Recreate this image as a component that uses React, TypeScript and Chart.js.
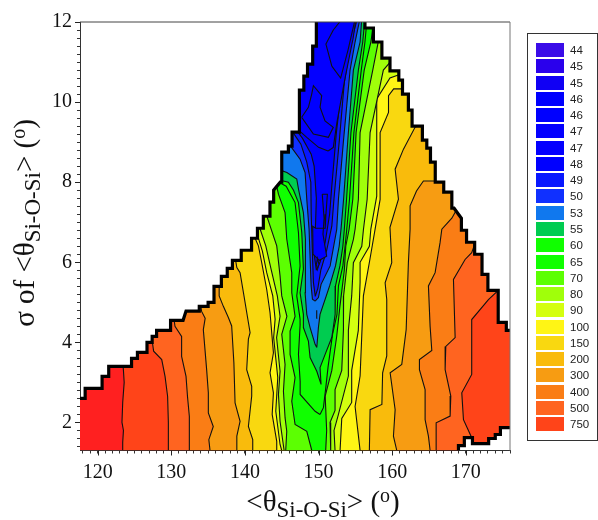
import React, { useEffect, useRef } from "react";
import { Chart, registerables } from "chart.js";

type P = [number, number];

const legendLabels = ["44","45","45","46","46","47","47","48","49","50","53","55","60","65","70","80","90","100","150","200","300","400","500","750"];
const legendColors = ["#3A0CE8","#2A00EC","#1000F4","#0000FF","#0000FF","#0400FF","#0400FF","#0000FF","#0818FF","#1030FF","#1078EE","#00CC50","#10FF00","#10FF00","#5CFF02","#A0FF0A","#D4FF10","#FFF515","#F9D810","#F9BB0C","#F79C12","#FA7D15","#FF6420","#FF4419"];
const floorColor = "#FF2020";

const xMajor = [120,130,140,150,160,170];
const yMajor = [2,4,6,8,10,12];

const outlineLeft: P[] = [[117.6,2.6],[118.3,2.6],[118.3,2.85],[120.6,2.85],[120.6,3.15],[121.5,3.15],[121.5,3.4],[124.2,3.4],[124.6,3.4],[124.6,3.6],[125.4,3.6],[125.4,3.75],[126.7,3.75],[126.7,4],[127.4,4],[127.4,4.15],[128,4.15],[128,4.3],[129.9,4.3],[129.9,4.55],[131.6,4.55],[132,4.78],[133.8,4.78],[133.8,4.9],[135,4.9],[135,5],[135.8,5],[135.8,5.4],[136.8,5.4],[136.8,5.65],[137.6,5.65],[137.6,5.85],[138.3,5.85],[138.3,6.05],[139.5,6.05],[139.5,6.3],[140.9,6.3],[140.9,6.6],[141.7,6.6],[141.7,6.85],[142.5,6.85],[142.5,7.15],[143.4,7.15],[143.4,7.5],[143.9,7.5],[143.9,7.8],[144.8,8],[145,8],[145,8.75],[145.9,8.75],[145.9,8.9],[146.4,8.9],[146.4,9.25],[147.4,9.25],[147.4,10.3],[148,10.3],[148,10.65],[148.5,10.65],[148.5,10.95],[149.2,10.95],[149.2,11.4],[149.7,11.4],[149.7,12]];
const outlineRight: P[] = [[156.3,12],[156.3,11.85],[157.45,11.85],[157.45,11.5],[158.6,11.5],[158.6,11.1],[159.7,11.1],[159.7,10.78],[160.9,10.78],[160.9,10.55],[161.4,10.55],[161.4,10.2],[162.2,10.2],[162.2,9.8],[162.7,9.8],[162.7,9.4],[164.1,9.4],[164.1,9.05],[164.7,9.05],[164.7,8.85],[165.2,8.85],[165.2,8.5],[165.85,8.5],[165.85,8],[167,8],[167,7.75],[168.1,7.75],[168.1,7.35],[168.4,7.35],[169.4,7.1],[169.4,6.8],[170.1,6.8],[170.1,6.5],[171.2,6.5],[171.2,6.2],[172.2,6.2],[172.2,5.7],[173,5.7],[173,5.3],[174.4,5.3],[174.4,4.5],[175.5,4.5],[175.5,4.3],[176,4.3]];
const outlineNotch: P[] = [[176,1.87],[174.7,1.87],[174.7,1.7],[174,1.7],[174,1.6],[173.1,1.6],[173.1,1.47],[170.9,1.47],[170.9,1.62],[169.8,1.62],[169.8,1.42],[169,1.42],[169,1.3]];

const left750: P[] = [[123.4,1.3],[123.4,1.5],[123.5,1.8],[123.3,2],[123.4,2.5],[123.6,3],[123.5,3.3],[123.3,3.7]];
const right750: P[] = [[185,1.3]];
const left500: P[] = [[129.6,1.3],[129.6,2],[129.5,2.65],[129.15,3.15],[128.7,3.57],[127.6,3.78],[127.2,4.3]];
const right500: P[] = [[170.8,1.3],[170.8,1.62],[169.68,2.07],[169.45,2.74],[170.8,3.2],[170.8,4.57],[173.07,5.07],[175,5.4]];
const left400: P[] = [[132.45,1.3],[132.45,2.15],[132.2,2.65],[132,3.15],[131.4,3.65],[131.4,4.15],[130.5,4.4],[130.2,4.8]];
const right400: P[] = [[165.97,1.3],[165.97,1.99],[167.87,2.16],[167.96,2.66],[167.19,3.32],[167.28,3.9],[168.55,4.12],[168.32,5.57],[169.9,6.07],[170.8,6.24],[171.5,6.6]];
const left300: P[] = [[135.26,1.3],[135.1,1.57],[135.7,1.9],[135.03,2.24],[135.03,2.74],[134.8,3.32],[134.35,4.32],[134.6,4.6],[134.1,4.78],[133.9,5.1]];
const right300: P[] = [[165.15,1.3],[164.92,1.66],[164.47,2.07],[164.47,2.82],[163.7,3.32],[163.7,3.57],[165.38,3.8],[165.15,4.4],[164.92,5.41],[165.83,5.74],[166.5,6.49],[166.74,6.825],[168.1,7.1],[169,7.4]];
const left200: P[] = [[138.9,1.3],[138.9,1.66],[139.34,2.03],[138.66,2.49],[138.5,3.49],[138.2,4.41],[137.75,4.62],[137.07,4.9],[136.5,5.16],[136.5,5.41],[136.2,5.7]];
const right200: P[] = [[160.62,1.3],[160.17,1.66],[160.4,2.32],[159.72,3.24],[161.3,3.45],[161.9,4.32],[162.2,5.99],[162.43,6.825],[162.43,7.41],[163.3,7.78],[164.24,8.03],[165.8,8.03],[167,8.03]];
const left150: P[] = [[141.06,1.3],[141.06,1.57],[140.47,1.9],[140.92,2.66],[140.92,2.9],[140.24,3.32],[140.47,4.08],[140.7,4.24],[139.8,5.24],[139.34,5.74],[138.9,5.87],[138.6,6.2]];
const right150: P[] = [[156.9,1.3],[157,2.32],[158.6,2.45],[158.7,3.24],[159.26,3.66],[159.26,5.07],[159.04,5.49],[159.94,5.99],[159.7,6.87],[160.85,7.575],[160.4,8.325],[161.53,8.825],[163.1,9.37],[164,9.45]];
const left100: P[] = [[144.32,1.3],[144.32,1.53],[143.7,2.2],[143.87,2.74],[143.41,3.24],[143.87,3.74],[143.41,4.74],[142.96,5.32],[142.28,5.99],[141.83,6.41],[141.38,6.6],[141,6.95]];
const right100: P[] = [[155.64,1.3],[154.96,2.4],[155.64,3.16],[156.09,5.16],[157,6.1],[157.68,6.83],[158.36,7.57],[158.36,9.24],[159.5,9.74],[159.5,10.16],[160.2,10.33],[162,10.33]];
const left90: P[] = [[145,1.3],[144.77,1.45],[144.19,2.28],[144.46,3.12],[143.9,4.12],[144.1,4.58],[143.78,5.16],[142.96,5.74],[142.37,6.28],[141.74,6.66],[141.5,7]];
const right90: P[] = [[152.92,1.3],[153.15,2.1],[154.5,2.5],[154.5,3.3],[155.4,4.3],[155.64,5.5],[155.64,6],[156.9,6.4],[157.1,6.83],[157.9,7.65],[157.9,10.08],[159.7,10.6],[161.2,10.7]];
const left80: P[] = [[145.32,1.3],[144.77,2.03],[144.55,2.7],[144.77,3.28],[144.3,4.12],[144.77,4.65],[144.4,5.16],[143.55,5.83],[142.83,6.41],[142.06,6.83],[141.8,7.2]];
const right80: P[] = [[152.24,1.3],[152.1,1.8],[152.7,2.2],[154.05,3.16],[154.05,4.3],[154.5,5.16],[154.73,5.99],[155.87,6.4],[156.1,6.825],[156.6,7.575],[157,9.24],[158.8,10.8],[160.2,11.1]];
const left70: P[] = [[145.54,1.3],[145.68,1.78],[145.45,2.12],[145.23,2.78],[145.45,3.45],[145,4.2],[145.7,4.65],[145,5.16],[144.77,5.66],[144.32,6.41],[142.96,7.16],[142.7,7.5]];
const right70: P[] = [[151.65,1.3],[151.56,2],[152.24,2.3],[152.24,2.82],[153.15,3.3],[153.38,4.32],[153.4,5.16],[153.9,5.99],[154.73,6.57],[154.96,6.825],[155.41,7.575],[155.64,9.24],[157.36,10.8],[158.1,11.5],[159,11.6]];
const left65: P[] = [[149.08,1.3],[148.4,1.78],[146.81,1.95],[146.36,2.53],[146.81,3.12],[146.13,3.7],[146.13,4.28],[146.81,4.65],[146.36,5.24],[146.36,5.74],[145.68,6.58],[145.45,7.24],[144.55,7.7],[144.2,8]];
const right65: P[] = [[150.97,1.3],[151.1,1.8],[150.9,2.66],[151.8,3.3],[152.47,4.16],[152.9,4.9],[153.5,5.8],[153.7,6.4],[154.15,6.825],[154.65,7.575],[155.1,9.24],[156.2,10.8],[157.1,11.5],[157.6,12.1]];
const left60: P[] = [[150.2,2.2],[149.53,2.28],[147.5,2.7],[147.5,3.03],[147.27,3.7],[147.5,4.45],[147.49,4.58],[147.04,5.16],[147.49,5.91],[147.27,6.74],[146.81,7.49],[145.6,7.9],[144.6,8]];
const right60: P[] = [[150.2,2.2],[150.66,2.37],[151,2.9],[151.3,3.4],[151.9,4.2],[152.5,4.7],[152.7,5.41],[153.3,5.91],[153.6,6.4],[153.83,6.825],[154.2,7.575],[154.8,9.24],[155.8,10.8],[156.3,11.5],[156.6,12.1]];
const left55: P[] = [[150.34,2.95],[149.76,3.28],[148.85,3.62],[148.62,4.03],[147.94,4.37],[147.94,4.7],[147.49,5.24],[147.94,5.83],[147.72,6.74],[147.27,7.49],[146.6,7.8],[145.9,8],[144.8,8.05]];
const right55: P[] = [[150.34,2.95],[150.2,3.37],[150.89,3.7],[151.79,4.12],[152,4.37],[152.25,4.7],[152.3,5.41],[152.9,5.91],[153.3,6.4],[153.5,6.825],[153.8,7.575],[154.4,9.24],[155.41,10.8],[156,11.5],[156.3,12.1]];
const left53: P[] = [[149.76,3.87],[149.53,3.95],[148.85,4.37],[148.4,4.7],[148.17,5.24],[148.26,5.83],[148.17,6.58],[147.94,7.24],[147.27,7.83],[147.04,8.08],[145.7,8.24],[144.8,8.3]];
const right53: P[] = [[149.76,3.87],[149.98,4.37],[150.2,4.7],[150.9,5.08],[151.5,5.41],[152.3,5.91],[152.8,6.4],[153.05,6.825],[153.4,7.575],[154.05,9.24],[154.73,10.8],[155.64,11.5],[155.87,12.1]];
const left50: P[] = [[149.53,5.03],[149.17,5.08],[148.99,5.41],[148.71,6.825],[148.4,7.575],[148.17,8.24],[147.49,8.575],[145.68,9.03],[145.2,9.2]];
const right50: P[] = [[149.53,5.03],[149.98,5.12],[150.34,5.45],[151.57,5.91],[152.47,6.825],[152.7,7.575],[153.4,9.07],[154.28,10.8],[154.96,11.5],[155.64,12.1]];
const left49: P[] = [[149.55,5.15],[149.3,5.5],[149.15,6.3],[149,7.2],[148.95,8],[148.4,8.5],[147.6,8.95],[146.5,9.25],[146,9.5]];
const right49: P[] = [[149.55,5.15],[149.9,5.35],[150.3,5.8],[151.1,6.3],[151.8,6.9],[152.1,7.6],[152.8,9],[153.5,10.5],[154.4,11.5],[155.3,12.1]];
const left48: P[] = [[149.7,5.8],[149.4,6.2],[149.6,7],[149.7,7.6],[149.4,8.4],[149,8.7],[147.8,9.1],[147,9.3],[146.5,9.6]];
const right48: P[] = [[149.7,5.8],[150.2,6],[150.9,6.5],[151.5,7.2],[151.8,7.9],[152.4,9.2],[153.2,10.5],[154.2,11.6],[155.2,12.1]];
const left47: P[] = [[151.3,8.78],[150,8.87],[148.4,9.12],[147.3,9.3],[147,9.6]];
const right47: P[] = [[151.3,8.78],[152,8.87],[152.5,9.5],[153.6,10.6],[154.7,11.6],[155.1,12.1]];

const loopUpper: P[] = [[147.71,9.62],[148.62,9.87],[149.07,10.2],[149.3,10.41],[150.43,10.16],[150.2,9.87],[150.88,9.53],[152,9.37],[151.33,9.12],[149.3,9.2]];
const loopTop: P[] = [[151.8,10.9],[151,11.45],[152,11.8],[153.3,12.1],[155,12.1],[154,11.3],[153,10.6]];
const loopCore: P[] = [[150.5,7.7],[151.2,7.7],[151,7.2],[150.9,6.85],[149.6,6.85],[149.2,6.9],[149.25,6.2],[150.1,6.05],[151.1,6.15],[150.6,6.7],[150.75,7.1]];
const loopSmall: P[] = [[149.7,5.95],[149.85,6.1],[150.05,5.95],[149.85,5.82]];
const loopTick: P[] = [[149.72,4.6],[149.78,4.6],[149.78,4.8],[149.72,4.8]];

const levels: { label: string; left: P[]; right: P[] }[] = [
  { label: "750", left: left750, right: right750 },
  { label: "500", left: left500, right: right500 },
  { label: "400", left: left400, right: right400 },
  { label: "300", left: left300, right: right300 },
  { label: "200", left: left200, right: right200 },
  { label: "150", left: left150, right: right150 },
  { label: "100", left: left100, right: right100 },
  { label: "90", left: left90, right: right90 },
  { label: "80", left: left80, right: right80 },
  { label: "70", left: left70, right: right70 },
  { label: "65", left: left65, right: right65 },
  { label: "60", left: left60, right: right60 },
  { label: "55", left: left55, right: right55 },
  { label: "53", left: left53, right: right53 },
  { label: "50", left: left50, right: right50 },
  { label: "49", left: left49, right: right49 },
  { label: "48", left: left48, right: right48 },
  { label: "47", left: left47, right: right47 },
];
const loops = [loopUpper, loopTop, loopCore, loopSmall, loopTick];

const X_MIN = 117.6, X_MAX = 176, Y_MIN = 1.3, Y_MAX = 12;
const FAR_L = 110, FAR_R = 185, FAR_T = 14;
const SERIF = '"Liberation Serif", "Times New Roman", serif';
const SANS = '"Liberation Sans", Arial, sans-serif';

const domain: P[] = [[X_MIN, Y_MIN], ...outlineLeft, [149.7, FAR_T], [156.3, FAR_T], ...outlineRight, ...outlineNotch];

const toXY = (pts: P[]) => pts.map(([x, y]) => ({ x, y }));

function regionOf(left: P[], right: P[]): P[] {
  const l = left[left.length - 1];
  const r = right[right.length - 1];
  return [...left, [FAR_L, l[1]], [FAR_L, FAR_T], [FAR_R, FAR_T], [FAR_R, r[1]], ...[...right].reverse(), left[0]];
}

// Restricts the contour bands to the sampled part of the plane. Registered
// ahead of the filler so that it also applies to the band fills.
const domainClip = {
  id: "domainClip",
  beforeDatasetDraw(chart: any, args: any) {
    if (!chart.data.datasets[args.index].inDomain) return;
    const { ctx, scales } = chart;
    ctx.save();
    ctx.beginPath();
    domain.forEach(([x, y], i) => {
      const px = scales.x.getPixelForValue(x);
      const py = scales.y.getPixelForValue(y);
      if (i === 0) ctx.moveTo(px, py);
      else ctx.lineTo(px, py);
    });
    ctx.closePath();
    ctx.clip();
  },
  afterDatasetDraw(chart: any, args: any) {
    if (chart.data.datasets[args.index].inDomain) chart.ctx.restore();
  },
};

Chart.register(domainClip, ...registerables);

type Seg = { t: string; size: number; dy: number };
const xTitleSegs: Seg[] = [
  { t: "<θ", size: 29, dy: 0 },
  { t: "Si-O-Si", size: 23, dy: 6 },
  { t: ">", size: 29, dy: 0 },
  { t: " (", size: 29, dy: 0 },
  { t: "o", size: 20, dy: -9 },
  { t: ")", size: 29, dy: 0 },
];
const yTitleSegs: Seg[] = [
  { t: "σ of <θ", size: 29, dy: 0 },
  { t: "Si-O-Si", size: 23, dy: 6 },
  { t: ">", size: 29, dy: 0 },
  { t: " (", size: 29, dy: 0 },
  { t: "o", size: 20, dy: -9 },
  { t: ")", size: 29, dy: 0 },
];

function drawSegs(ctx: CanvasRenderingContext2D, segs: Seg[]) {
  let total = 0;
  segs.forEach((s) => {
    ctx.font = `${s.size}px ${SERIF}`;
    total += ctx.measureText(s.t).width;
  });
  let x = -total / 2;
  segs.forEach((s) => {
    ctx.font = `${s.size}px ${SERIF}`;
    ctx.fillText(s.t, x, s.dy);
    x += ctx.measureText(s.t).width;
  });
}

const furniture = {
  id: "furniture",
  afterDraw(chart: any) {
    const { ctx, chartArea: a, scales } = chart;
    ctx.save();
    // frame: top and right sides of the plot
    ctx.lineWidth = 1;
    ctx.strokeStyle = "#444";
    ctx.beginPath();
    ctx.moveTo(a.left, a.top);
    ctx.lineTo(a.right, a.top);
    ctx.stroke();
    ctx.strokeStyle = "#777";
    ctx.beginPath();
    ctx.moveTo(a.right, a.top);
    ctx.lineTo(a.right, a.bottom);
    ctx.stroke();
    // longer major ticks
    ctx.strokeStyle = "#222";
    xMajor.forEach((v) => {
      const p = Math.round(scales.x.getPixelForValue(v)) + 0.5;
      ctx.beginPath();
      ctx.moveTo(p, a.bottom);
      ctx.lineTo(p, a.bottom + 5);
      ctx.stroke();
    });
    yMajor.forEach((v) => {
      const p = Math.round(scales.y.getPixelForValue(v)) + 0.5;
      ctx.beginPath();
      ctx.moveTo(a.left, p);
      ctx.lineTo(a.left - 5, p);
      ctx.stroke();
    });
    // axis titles
    ctx.fillStyle = "#111";
    ctx.textAlign = "left";
    ctx.textBaseline = "alphabetic";
    ctx.save();
    ctx.translate(323, 511);
    drawSegs(ctx, xTitleSegs);
    ctx.restore();
    ctx.save();
    ctx.translate(34, 223);
    ctx.rotate(-Math.PI / 2);
    drawSegs(ctx, yTitleSegs);
    ctx.restore();
    // legend
    ctx.fillStyle = "#fff";
    ctx.fillRect(527.5, 33.5, 70, 407);
    ctx.strokeStyle = "#333";
    ctx.strokeRect(527.5, 33.5, 70, 407);
    ctx.font = `11.5px ${SANS}`;
    ctx.textBaseline = "middle";
    legendLabels.forEach((label, i) => {
      const top = Math.round(43 + i * 16.27);
      ctx.fillStyle = legendColors[i];
      ctx.fillRect(536, top, 28, 14);
      ctx.fillStyle = "#222";
      ctx.fillText(label, 570, top + 7.5);
    });
    ctx.restore();
  },
};

export default function App() {
  const ref = useRef<HTMLCanvasElement>(null);
  useEffect(() => {
    const colorOf = (label: string) => legendColors[legendLabels.lastIndexOf(label)];
    const band = (label: string, pts: P[], color: string, borderWidth = 1.1) => ({
      label,
      data: toXY(pts),
      showLine: true,
      fill: "shape",
      backgroundColor: color,
      borderColor: "#111",
      borderWidth,
      pointRadius: 0,
      tension: 0,
      clip: 0,
      inDomain: true,
    });
    const outline = (label: string, pts: P[]) => ({
      label,
      data: toXY(pts),
      showLine: true,
      fill: false,
      borderColor: "#000",
      borderWidth: 3.2,
      borderJoinStyle: "miter",
      pointRadius: 0,
      tension: 0,
      clip: 0,
    });
    const painted: any[] = [
      band("floor", domain, floorColor, 0),
      ...levels.map((l) => band(l.label, regionOf(l.left, l.right), colorOf(l.label))),
      ...loops.map((p, i) => band(`core ${i}`, [...p, p[0]], "#0000FF")),
      outline("edge left", outlineLeft),
      outline("edge right", outlineRight),
      outline("edge notch", outlineNotch),
    ];
    // Chart.js paints the lowest order last.
    painted.forEach((d, i) => (d.order = painted.length - i));

    const axisText = { family: SERIF, size: 20 };
    const chart = new Chart(ref.current as HTMLCanvasElement, {
      type: "scatter",
      data: { datasets: painted },
      plugins: [furniture],
      options: {
        animation: false,
        responsive: false,
        devicePixelRatio: 1,
        events: [],
        layout: { padding: { top: 22, right: 88, left: 0, bottom: 0 } },
        plugins: { legend: { display: false }, tooltip: { enabled: false }, title: { display: false } },
        scales: {
          x: {
            type: "linear",
            min: X_MIN,
            max: X_MAX,
            afterFit: (s: any) => { s.height = 69.5; },
            border: { color: "#333", width: 1 },
            grid: { drawOnChartArea: false, tickLength: 3, tickColor: "#333" },
            ticks: {
              stepSize: 1,
              includeBounds: false,
              autoSkip: false,
              maxRotation: 0,
              padding: 7,
              color: "#111",
              font: axisText,
              callback: (v: any) => (xMajor.includes(Math.round(v * 100) / 100) ? String(v) : ""),
            },
          },
          y: {
            type: "linear",
            min: Y_MIN,
            max: Y_MAX,
            afterFit: (s: any) => { s.width = 80; },
            border: { color: "#333", width: 1 },
            grid: { drawOnChartArea: false, tickLength: 3, tickColor: "#333" },
            ticks: {
              stepSize: 0.2,
              includeBounds: false,
              autoSkip: false,
              padding: 5,
              color: "#111",
              font: axisText,
              callback: (v: any) => (yMajor.includes(Math.round(v * 100) / 100) ? String(Math.round(v)) : ""),
            },
          },
        },
      } as any,
    } as any);
    return () => chart.destroy();
  }, []);
  return (
    <canvas
      ref={ref}
      width={598}
      height={520}
      style={{ position: "absolute", left: 0, top: 0, display: "block", width: 598, height: 520 }}
    />
  );
}
